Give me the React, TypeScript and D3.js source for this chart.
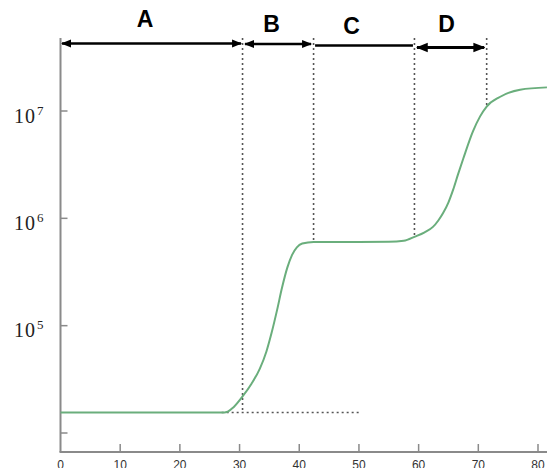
import React from "react";
import * as d3 from "d3";

const W = 547;
const H = 468;

// growth curve (time, cell count)
const times = [0, 10, 20, 27, 28, 29, 30.5, 32, 33.4, 34.5, 35.4, 36.3, 37.1, 38, 38.8, 39.6, 40.5, 42.4, 50, 55, 57.5, 59.4, 61, 62.4, 63.3, 64.1, 65, 65.8, 66.6, 67.5, 69.1, 70.3, 71.4, 73.6, 77, 81.5];
const counts = [15500, 15500, 15500, 15500, 15800, 17400, 21900, 28800, 39800, 57500, 87100, 141000, 224000, 347000, 457000, 537000, 582000, 603000, 603000, 605000, 617000, 676000, 741000, 832000, 955000, 1120000, 1410000, 1860000, 2570000, 3630000, 6460000, 8910000, 11000000, 13500000, 15800000, 16600000];

const xTicks = [0, 10, 20, 30, 40, 50, 60, 70, 80];
const yTicks = [1e4, 1e5, 1e6, 1e7];
const yTickLabels = ["", "5", "6", "7"];

// phases
const phaseNames = ["A", "B", "C", "D"];
const phaseStart = [0, 30.5, 42.4, 59.3];
const phaseEnd = [30.5, 42.4, 59.3, 71.4];
const phaseArrows = [true, true, false, true];
const boundaryTimes = [30.5, 42.4, 59.3, 71.4];
const boundaryBottoms = [15500, 603000, 676000, 11000000];
const baselineDashStart = 27;
const baselineDashEnd = 50;

export default function App() {
  const x = d3.scaleLinear().domain([0, 80]).range([60.5, 538]);
  const y = d3.scaleLog().domain([1e4, 1e7]).range([433, 111]);
  const axisTop = 38;
  const axisBottom = 452;
  const axisColor = "#8a8a8a";

  const pts = times.map((t, i) => [t, counts[i]] as [number, number]);
  const line = d3
    .line<[number, number]>()
    .x((d) => x(d[0]))
    .y((d) => y(d[1]))
    .curve(d3.curveMonotoneX);

  const labelX = [145, 271.5, 351.5, 446.5];
  const labelY = [26.7, 31.7, 34.3, 32.3];
  const arrowY = [43.5, 44, 45.5, 47.5];
  const arrowW = [2.5, 2.5, 2.5, 3];
  const pad = [1.5, 2.5, 1.5, 2.5];

  return (
    <svg width={W} height={H} style={{ position: "absolute", left: 0, top: 0, background: "#fff" }}>
      <defs>
        <marker id="ah" viewBox="0 0 10 10" refX="9" refY="5" markerWidth="4" markerHeight="4" orient="auto-start-reverse" markerUnits="strokeWidth">
          <path d="M0,1 L10,5 L0,9 z" fill="#000" />
        </marker>
      </defs>
      {/* axes */}
      <line x1={x(0)} x2={x(0)} y1={axisTop} y2={axisBottom} stroke={axisColor} strokeWidth={2} />
      <line x1={x(0) - 1} x2={W} y1={axisBottom} y2={axisBottom} stroke={axisColor} strokeWidth={2} />
      {xTicks.slice(1).map((t) => (
        <line key={"xt" + t} x1={x(t)} x2={x(t)} y1={axisBottom} y2={axisBottom - 8} stroke={axisColor} strokeWidth={1.5} />
      ))}
      {xTicks.map((t) => (
        <text key={"xl" + t} x={x(t)} y={469} textAnchor="middle" fontFamily="Liberation Sans, Arial, sans-serif" fontSize={12} fill="#333">
          {t}
        </text>
      ))}
      {yTicks.map((v, i) => (
        <g key={"yt" + v}>
          <line x1={x(0)} x2={x(0) + 7} y1={y(v)} y2={y(v)} stroke={axisColor} strokeWidth={1.5} />
          {yTickLabels[i] && (
            <>
              <text x={14} y={y(v) + 11.5} fontFamily="Liberation Serif, Times New Roman, serif" fontSize={20} fill="#222" letterSpacing={1}>
                10
              </text>
              <text x={37} y={y(v) + 3.5} fontFamily="Liberation Serif, Times New Roman, serif" fontSize={13} fill="#222">
                {yTickLabels[i]}
              </text>
            </>
          )}
        </g>
      ))}
      {/* dashed guides */}
      {boundaryTimes.map((t, i) => (
        <line key={"bd" + i} x1={x(t)} x2={x(t)} y1={axisTop} y2={y(boundaryBottoms[i])} stroke="#555" strokeWidth={1.6} strokeDasharray="2,3" />
      ))}
      <line x1={x(baselineDashStart)} x2={x(baselineDashEnd)} y1={y(counts[0])} y2={y(counts[0])} stroke="#555" strokeWidth={1.6} strokeDasharray="2,3" />
      {/* curve */}
      <path d={line(pts) || ""} fill="none" stroke="#6aae7c" strokeWidth={2} />
      {/* phases */}
      {phaseNames.map((n, i) => (
        <g key={n}>
          <line
            x1={x(phaseStart[i]) + pad[i]}
            x2={x(phaseEnd[i]) - pad[i]}
            y1={arrowY[i]}
            y2={arrowY[i]}
            stroke="#000"
            strokeWidth={arrowW[i]}
            markerStart={phaseArrows[i] ? "url(#ah)" : undefined}
            markerEnd={phaseArrows[i] ? "url(#ah)" : undefined}
          />
          <text x={labelX[i]} y={labelY[i]} textAnchor="middle" fontFamily="Liberation Sans, Arial, sans-serif" fontWeight="bold" fontSize={23} fill="#000">
            {n}
          </text>
        </g>
      ))}
    </svg>
  );
}
